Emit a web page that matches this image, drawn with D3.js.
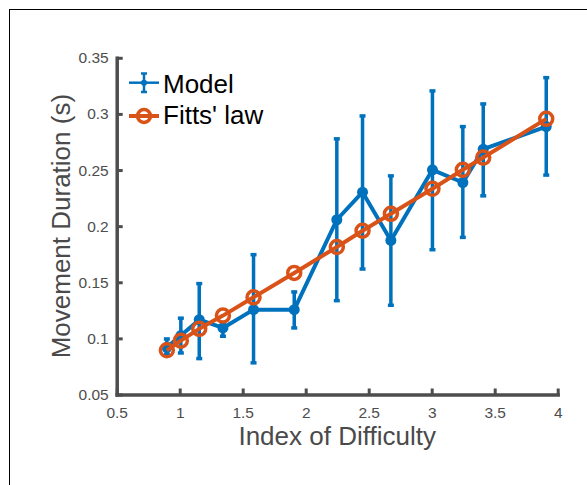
<!DOCTYPE html>
<html>
<head>
<meta charset="utf-8">
<script src="https://cdn.jsdelivr.net/npm/d3@7"></script>
<style>
  body { margin: 0; background: #fff; }
  text { font-family: "Liberation Sans", Arial, Helvetica, sans-serif; }
</style>
</head>
<body>
<script>
// index of difficulty, shared by both series
const idValues = [0.898, 1.009, 1.155, 1.343, 1.586, 1.909, 2.247, 2.451, 2.676, 3.006, 3.247, 3.409, 3.909];
// model: mean movement duration and error bar ends (s)
const modelMean  = [0.092, 0.1025, 0.1167, 0.1093, 0.1256, 0.1256, 0.2057, 0.2303, 0.1873, 0.2502, 0.2389, 0.2686, 0.2887];
const modelUpper = [0.0995, 0.118, 0.1488, 0.114, 0.1746, 0.1414, 0.2778, 0.2982, 0.2448, 0.3205, 0.2887, 0.3089, 0.3323];
const modelLower = [0.086, 0.087, 0.082, 0.1019, 0.0782, 0.1093, 0.1336, 0.1618, 0.1295, 0.179, 0.19, 0.227, 0.2455];
// Fitts' law fit
const fittsValues = [0.0894, 0.098, 0.1085, 0.1203, 0.1366, 0.1583, 0.1814, 0.1959, 0.211, 0.2333, 0.2502, 0.2611, 0.2956];

const xTicks = [0.5, 1, 1.5, 2, 2.5, 3, 3.5, 4];
const yTicks = [0.05, 0.1, 0.15, 0.2, 0.25, 0.3, 0.35];

const width = 587;
const height = 485;
const blue = '#0072BD';
const orange = '#D95319';
const axisColor = '#4d4d4d';

const svg = d3.select('body')
  .append('svg')
  .attr('width', width)
  .attr('height', height);

// figure frame
svg.append('rect')
  .attr('x', 9.5).attr('y', 9.5)
  .attr('width', 700).attr('height', 700)
  .attr('fill', 'none')
  .attr('stroke', '#000')
  .attr('stroke-width', 1);

const x = d3.scaleLinear().domain([0.5, 4]).range([116.7, 557.7]);
const y = d3.scaleLinear().domain([0.05, 0.35]).range([394.5, 57.8]);

const fmt = d => String(+d.toFixed(2));

const xAxis = svg.append('g')
  .attr('transform', `translate(0,${y(0.05)})`)
  .call(d3.axisBottom(x).tickValues(xTicks).tickFormat(fmt)
    .tickSizeInner(-6).tickSizeOuter(0).tickPadding(12));

const yAxis = svg.append('g')
  .attr('transform', `translate(${x(0.5)},0)`)
  .call(d3.axisLeft(y).tickValues(yTicks).tickFormat(fmt)
    .tickSizeInner(-6).tickSizeOuter(0).tickPadding(8));

[xAxis, yAxis].forEach(g => {
  g.select('.domain').attr('stroke', axisColor).attr('stroke-width', 3.5).attr('stroke-linecap', 'square');
  g.selectAll('.tick line').attr('stroke', axisColor).attr('stroke-width', 3);
  g.selectAll('.tick text').attr('fill', axisColor).style('font-size', '15.5px');
});

// axis titles
svg.append('text')
  .attr('x', (x(0.5) + x(4)) / 2)
  .attr('y', 445)
  .attr('text-anchor', 'middle')
  .attr('fill', '#4a4a4a')
  .style('font-size', '26px')
  .text('Index of Difficulty');

svg.append('text')
  .attr('transform', `translate(70,${(y(0.05) + y(0.35)) / 2}) rotate(-90)`)
  .attr('text-anchor', 'middle')
  .attr('fill', '#4a4a4a')
  .style('font-size', '26px')
  .text('Movement Duration (s)');

const model = idValues.map((d, i) => ({ x: d, y: modelMean[i], lo: modelLower[i], hi: modelUpper[i] }));
const fitts = idValues.map((d, i) => ({ x: d, y: fittsValues[i] }));

const line = d3.line().x(d => x(d.x)).y(d => y(d.y));

// model line + error bars
svg.append('path')
  .datum(model)
  .attr('d', line)
  .attr('fill', 'none')
  .attr('stroke', blue)
  .attr('stroke-width', 4)
  .attr('stroke-linejoin', 'round');

const bars = svg.append('g').selectAll('g').data(model).join('g');
bars.append('line')
  .attr('x1', d => x(d.x)).attr('x2', d => x(d.x))
  .attr('y1', d => y(d.lo)).attr('y2', d => y(d.hi))
  .attr('stroke', blue).attr('stroke-width', 3.5);
bars.selectAll('.cap').data(d => [[d.x, d.lo], [d.x, d.hi]]).join('line')
  .attr('class', 'cap')
  .attr('x1', d => x(d[0]) - 3).attr('x2', d => x(d[0]) + 3)
  .attr('y1', d => y(d[1])).attr('y2', d => y(d[1]))
  .attr('stroke', blue).attr('stroke-width', 3.5);
bars.append('circle')
  .attr('cx', d => x(d.x)).attr('cy', d => y(d.y))
  .attr('r', 5.5)
  .attr('fill', blue);

// Fitts' law line + open circles
svg.append('path')
  .datum(fitts)
  .attr('d', line)
  .attr('fill', 'none')
  .attr('stroke', orange)
  .attr('stroke-width', 4)
  .attr('stroke-linejoin', 'round');

svg.append('g').selectAll('circle').data(fitts).join('circle')
  .attr('cx', d => x(d.x)).attr('cy', d => y(d.y))
  .attr('r', 6.5)
  .attr('fill', 'none')
  .attr('stroke', orange)
  .attr('stroke-width', 3.5);

// legend
const lg = svg.append('g');
lg.append('line').attr('x1', 129).attr('x2', 159).attr('y1', 82.7).attr('y2', 82.7)
  .attr('stroke', blue).attr('stroke-width', 2.5);
lg.append('line').attr('x1', 144).attr('x2', 144).attr('y1', 73.5).attr('y2', 92)
  .attr('stroke', blue).attr('stroke-width', 2.5);
[73.5, 92].forEach(cy => {
  lg.append('line').attr('x1', 141).attr('x2', 147).attr('y1', cy).attr('y2', cy)
    .attr('stroke', blue).attr('stroke-width', 2.5);
});
lg.append('circle').attr('cx', 144).attr('cy', 82.7).attr('r', 3).attr('fill', blue);
lg.append('text').attr('x', 163).attr('y', 93).style('font-size', '26px').attr('fill', '#000').text('Model');

lg.append('line').attr('x1', 129).attr('x2', 159).attr('y1', 116).attr('y2', 116)
  .attr('stroke', orange).attr('stroke-width', 4);
lg.append('circle').attr('cx', 144).attr('cy', 116).attr('r', 6.5)
  .attr('fill', 'none').attr('stroke', orange).attr('stroke-width', 3.5);
lg.append('text').attr('x', 163).attr('y', 123.5).style('font-size', '26px').attr('fill', '#000').text("Fitts' law");
</script>
</body>
</html>
